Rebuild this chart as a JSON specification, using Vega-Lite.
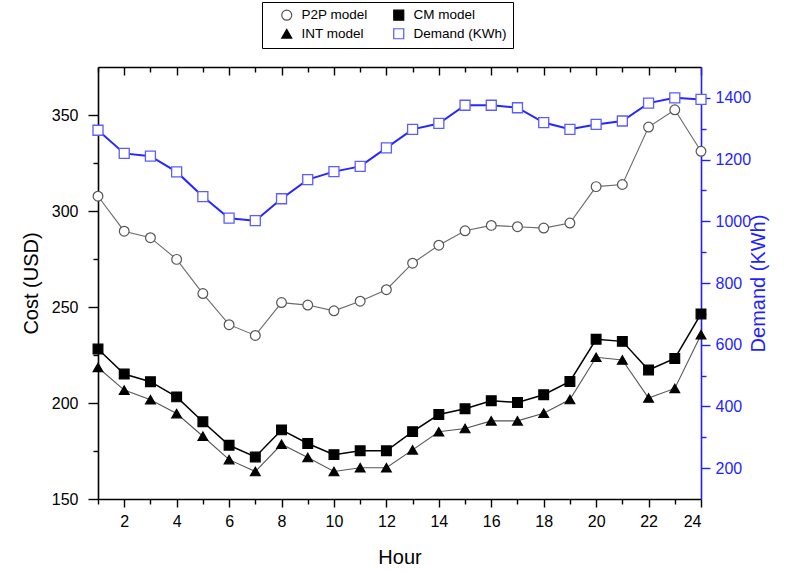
{
  "$schema": "https://vega.github.io/schema/vega-lite/v6.json",
  "width": 603,
  "height": 432,
  "autosize": {"type": "none"},
  "padding": {"left": 98, "top": 67, "right": 88, "bottom": 72},
  "config": {
    "view": {"stroke": null},
    "font": "Liberation Sans",
    "axis": {"grid": false, "domainColor": "#000", "tickColor": "#000", "labelColor": "#000", "titleColor": "#000", "labelFontSize": 16, "titleFontSize": 20, "titleFontWeight": "normal", "domainWidth": 1.6, "tickWidth": 1.4, "labelFont": "Liberation Sans", "titleFont": "Liberation Sans"}
  },
  "data": {"values": [
    {"hour":1,"series":"P2P model","value":307.7},{"hour":2,"series":"P2P model","value":289.5},{"hour":3,"series":"P2P model","value":286.1},{"hour":4,"series":"P2P model","value":274.8},{"hour":5,"series":"P2P model","value":257},{"hour":6,"series":"P2P model","value":240.8},{"hour":7,"series":"P2P model","value":235.2},{"hour":8,"series":"P2P model","value":252.3},{"hour":9,"series":"P2P model","value":251},{"hour":10,"series":"P2P model","value":248},{"hour":11,"series":"P2P model","value":253},{"hour":12,"series":"P2P model","value":259},{"hour":13,"series":"P2P model","value":272.8},{"hour":14,"series":"P2P model","value":282.2},{"hour":15,"series":"P2P model","value":289.7},{"hour":16,"series":"P2P model","value":292.5},{"hour":17,"series":"P2P model","value":291.8},{"hour":18,"series":"P2P model","value":291.1},{"hour":19,"series":"P2P model","value":293.7},{"hour":20,"series":"P2P model","value":312.7},{"hour":21,"series":"P2P model","value":313.8},{"hour":22,"series":"P2P model","value":343.7},{"hour":23,"series":"P2P model","value":352.7},{"hour":24,"series":"P2P model","value":331.1},
    {"hour":1,"series":"CM model","value":228.1},{"hour":2,"series":"CM model","value":215.1},{"hour":3,"series":"CM model","value":211.1},{"hour":4,"series":"CM model","value":203.2},{"hour":5,"series":"CM model","value":190.2},{"hour":6,"series":"CM model","value":178},{"hour":7,"series":"CM model","value":171.9},{"hour":8,"series":"CM model","value":186},{"hour":9,"series":"CM model","value":178.9},{"hour":10,"series":"CM model","value":173.1},{"hour":11,"series":"CM model","value":175.1},{"hour":12,"series":"CM model","value":175.1},{"hour":13,"series":"CM model","value":185.1},{"hour":14,"series":"CM model","value":194},{"hour":15,"series":"CM model","value":197},{"hour":16,"series":"CM model","value":201.2},{"hour":17,"series":"CM model","value":200.3},{"hour":18,"series":"CM model","value":204.3},{"hour":19,"series":"CM model","value":211.2},{"hour":20,"series":"CM model","value":233.2},{"hour":21,"series":"CM model","value":232.1},{"hour":22,"series":"CM model","value":217.2},{"hour":23,"series":"CM model","value":223.2},{"hour":24,"series":"CM model","value":246.4},
    {"hour":1,"series":"INT model","value":218.5},{"hour":2,"series":"INT model","value":206.7},{"hour":3,"series":"INT model","value":201.7},{"hour":4,"series":"INT model","value":194.5},{"hour":5,"series":"INT model","value":182.7},{"hour":6,"series":"INT model","value":170.5},{"hour":7,"series":"INT model","value":164.3},{"hour":8,"series":"INT model","value":178.5},{"hour":9,"series":"INT model","value":171.6},{"hour":10,"series":"INT model","value":164.3},{"hour":11,"series":"INT model","value":166.3},{"hour":12,"series":"INT model","value":166.3},{"hour":13,"series":"INT model","value":175.6},{"hour":14,"series":"INT model","value":185},{"hour":15,"series":"INT model","value":186.7},{"hour":16,"series":"INT model","value":190.7},{"hour":17,"series":"INT model","value":190.7},{"hour":18,"series":"INT model","value":194.7},{"hour":19,"series":"INT model","value":201.8},{"hour":20,"series":"INT model","value":223.8},{"hour":21,"series":"INT model","value":222.4},{"hour":22,"series":"INT model","value":202.6},{"hour":23,"series":"INT model","value":207.6},{"hour":24,"series":"INT model","value":235.6},
    {"hour":1,"series":"Demand (KWh)","value":1295},{"hour":2,"series":"Demand (KWh)","value":1220},{"hour":3,"series":"Demand (KWh)","value":1211},{"hour":4,"series":"Demand (KWh)","value":1160},{"hour":5,"series":"Demand (KWh)","value":1080},{"hour":6,"series":"Demand (KWh)","value":1010},{"hour":7,"series":"Demand (KWh)","value":1002},{"hour":8,"series":"Demand (KWh)","value":1073},{"hour":9,"series":"Demand (KWh)","value":1135},{"hour":10,"series":"Demand (KWh)","value":1161},{"hour":11,"series":"Demand (KWh)","value":1178},{"hour":12,"series":"Demand (KWh)","value":1238},{"hour":13,"series":"Demand (KWh)","value":1298},{"hour":14,"series":"Demand (KWh)","value":1317},{"hour":15,"series":"Demand (KWh)","value":1376},{"hour":16,"series":"Demand (KWh)","value":1376},{"hour":17,"series":"Demand (KWh)","value":1368},{"hour":18,"series":"Demand (KWh)","value":1320},{"hour":19,"series":"Demand (KWh)","value":1298},{"hour":20,"series":"Demand (KWh)","value":1314},{"hour":21,"series":"Demand (KWh)","value":1325},{"hour":22,"series":"Demand (KWh)","value":1383},{"hour":23,"series":"Demand (KWh)","value":1400},{"hour":24,"series":"Demand (KWh)","value":1395}
  ]},
  "layer": [
    {
      "transform": [{"filter": "datum.series !== 'Demand (KWh)'"}],
      "encoding": {
        "x": {"field": "hour", "type": "quantitative", "scale": {"domain": [1, 24], "nice": false, "zero": false},
              "axis": {"orient": "bottom", "title": "Hour", "values": [1,2,3,4,5,6,7,8,9,10,11,12,13,14,15,16,17,18,19,20,21,22,23,24],
                       "labelExpr": "datum.value % 2 === 0 ? datum.label : ''",
                       "tickSize": {"condition": {"test": "datum.value % 2 === 0", "value": 8}, "value": 5},
                       "labelPadding": 6, "titlePadding": 18}},
        "y": {"field": "value", "type": "quantitative", "scale": {"domain": [150, 375], "nice": false, "zero": false},
              "axis": {"orient": "left", "title": "Cost (USD)", "values": [150,175,200,225,250,275,300,325,350],
                       "labelExpr": "datum.value % 50 === 0 ? datum.label : ''",
                       "tickSize": {"condition": {"test": "datum.value % 50 === 0", "value": 10}, "value": 5},
                       "labelPadding": 10, "titlePadding": 10}}
      },
      "layer": [
        {"transform": [{"filter": "datum.series === 'P2P model'"}], "mark": {"type": "line", "color": "#6a6a6a", "strokeWidth": 1.1}},
        {"transform": [{"filter": "datum.series === 'CM model'"}], "mark": {"type": "line", "color": "#000000", "strokeWidth": 1.5}},
        {"transform": [{"filter": "datum.series === 'INT model'"}], "mark": {"type": "line", "color": "#555555", "strokeWidth": 1.1}},
        {
          "mark": {"type": "point", "filled": false, "opacity": 1, "size": 95, "strokeWidth": 1.2},
          "encoding": {
            "color": {"field": "series", "type": "nominal",
                      "scale": {"domain": ["P2P model", "CM model", "INT model", "Demand (KWh)"], "range": ["#555555", "#000000", "#000000", "#5555ff"]},
                      "legend": {"orient": "none", "legendX": 164, "legendY": -65, "columns": 2, "direction": "horizontal", "title": null,
                                 "labelFontSize": 13.5, "labelFont": "Liberation Sans", "labelColor": "#000",
                                 "strokeColor": "#000", "fillColor": "#ffffff", "padding": 6, "rowPadding": 3, "columnPadding": 12,
                                 "symbolSize": 100, "labelOffset": 8, "symbolStrokeWidth": 1.2, "symbolOffset": 12}},
            "fill": {"field": "series", "type": "nominal",
                     "scale": {"domain": ["P2P model", "CM model", "INT model", "Demand (KWh)"], "range": ["#ffffff", "#000000", "#000000", "#ffffff"]}, "legend": null},
            "shape": {"field": "series", "type": "nominal",
                      "scale": {"domain": ["P2P model", "CM model", "INT model", "Demand (KWh)"], "range": ["circle", "square", "triangle-up", "square"]}, "legend": null}
          }
        }
      ]
    },
    {
      "transform": [{"filter": "datum.series === 'Demand (KWh)'"}],
      "encoding": {
        "x": {"field": "hour", "type": "quantitative", "scale": {"domain": [1, 24], "nice": false, "zero": false},
              "axis": {"orient": "top", "title": null, "labels": false, "values": [1,2,3,4,5,6,7,8,9,10,11,12,13,14,15,16,17,18,19,20,21,22,23,24],
                       "tickSize": {"condition": {"test": "datum.value % 2 === 0", "value": -8}, "value": -5}}},
        "y": {"field": "value", "type": "quantitative", "scale": {"domain": [100, 1500], "nice": false, "zero": false},
              "axis": {"orient": "right", "title": "Demand (KWh)", "titleAngle": 270, "titleBaseline": "top", "values": [200,300,400,500,600,700,800,900,1000,1100,1200,1300,1400],
                       "labelExpr": "datum.value % 200 === 0 ? datum.label : ''", "format": "d",
                       "tickSize": {"condition": {"test": "datum.value % 200 === 0", "value": 9}, "value": 5},
                       "domainColor": "#1f1fff", "tickColor": "#1f1fff", "labelColor": "#1f1fff", "titleColor": "#1f1fff",
                       "labelPadding": 5, "titlePadding": -2}}
      },
      "layer": [
        {"mark": {"type": "line", "color": "#2626ff", "strokeWidth": 2}},
        {"mark": {"type": "point", "shape": "square", "filled": false, "fill": "#ffffff", "stroke": "#5c5cff", "opacity": 1, "size": 100, "strokeWidth": 1.3}}
      ]
    }
  ],
  "resolve": {"scale": {"y": "independent"}, "axis": {"x": "independent"}}
}
